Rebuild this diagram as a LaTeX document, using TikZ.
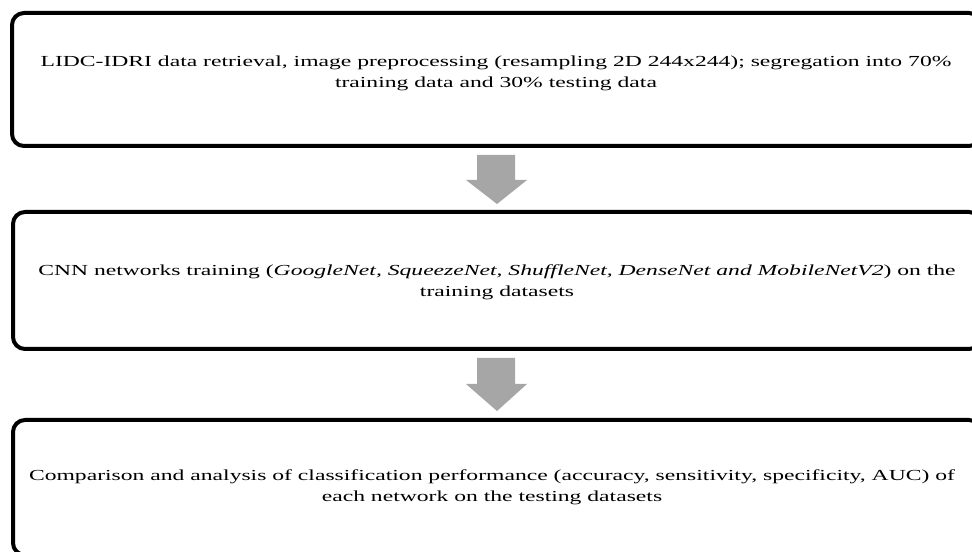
\documentclass[tikz,border=0pt]{standalone}
\usepackage{fontspec}
\setmainfont{Liberation Serif}[FakeStretch=1.54]
\begin{document}
\begin{tikzpicture}[x=0.75pt,y=-0.75pt,
  stepbox/.style={draw=black,line width=3pt,rounded corners=9pt,fill=white},
  steptext/.style={text width=712pt,align=flush center,font=\fontsize{11.5pt}{16pt}\selectfont,inner sep=0pt},
  grayarrow/.style={fill=black!35,draw=none}]
\useasboundingbox (0,0) rectangle (972,552);
\clip (0,0) rectangle (972,552);
% boxes
\draw[stepbox] (12,13) rectangle (981,146);
\draw[stepbox] (13,212) rectangle (981,349);
\draw[stepbox] (13,420) rectangle (981,555);
% texts
\node[steptext] (t1) at (496,73.5) {LIDC-IDRI data retrieval, image preprocessing (resampling 2D 244x244); segregation into 70\% training data and 30\% testing data};
\node[steptext] (t2) at (497,282) {CNN networks training (\textit{GoogleNet, SqueezeNet, ShuffleNet, DenseNet and MobileNetV2}) on the training datasets};
\node[steptext] (t3) at (492,487) {Comparison and analysis of classification performance (accuracy, sensitivity, specificity, AUC) of each network on the testing datasets};
% arrows
\fill[grayarrow] (477,155) -- (515,155) -- (515,180) -- (527,180) -- (497,204) -- (466,180) -- (477,180) -- cycle;
\fill[grayarrow] (477,358) -- (515,358) -- (515,384) -- (527,384) -- (497,411) -- (466,384) -- (477,384) -- cycle;
\end{tikzpicture}
\end{document}
